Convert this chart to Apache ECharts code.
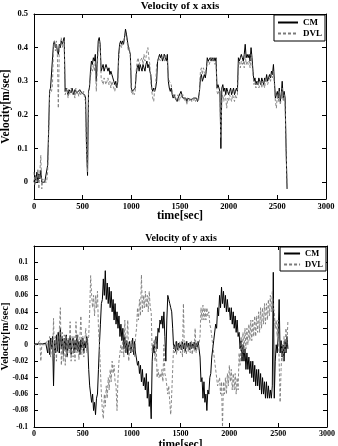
<!DOCTYPE html>
<html>
<head>
<meta charset="utf-8">
<script src="https://cdn.jsdelivr.net/npm/echarts@6/dist/echarts.min.js"></script>
<style>
html,body{margin:0;padding:0;background:#fff;}
#chart{width:338px;height:446px;}
</style>
</head>
<body>
<div id="chart"></div>
<script>
// sample step in sec, values start at t=0
var step = 10;

// x axis velocity, CM (solid)
var vxCM = [
 0.0,0.02,0.005,0.03,0.0,0.025,0.01,0.035,0.0,0.0,
 0,0,0,0,0.05,0.15,0.27,0.28,0.28,0.28,
 0.41,0.42,0.40,0.41,0.39,0.38,0.41,0.40,0.42,0.41,
 0.42,0.43,0.27,0.28,0.27,0.26,0.275,0.27,0.265,0.28,
 0.27,0.26,0.275,0.27,0.265,0.27,0.26,0.275,0.27,0.265,
 0.27,0.265,0.26,0.25,0.1,0.02,0.27,0.28,0.33,0.36,
 0.35,0.37,0.36,0.38,0.30,0.36,0.42,0.43,0.41,0.33,
 0.34,0.35,0.33,0.34,0.35,0.34,0.33,0.34,0.32,0.33,
 0.32,0.31,0.30,0.29,0.30,0.28,0.30,0.38,0.41,0.42,
 0.41,0.42,0.41,0.43,0.455,0.44,0.42,0.40,0.39,0.38,
 0.28,0.27,0.265,0.27,0.28,0.32,0.34,0.35,0.33,0.35,
 0.34,0.33,0.35,0.34,0.33,0.35,0.36,0.34,0.35,0.33,
 0.32,0.28,0.27,0.28,0.27,0.28,0.30,0.36,0.37,0.38,
 0.37,0.38,0.36,0.37,0.38,0.37,0.36,0.38,0.30,0.28,
 0.27,0.28,0.26,0.25,0.26,0.25,0.25,0.24,0.25,0.25,
 0.25,0.27,0.26,0.25,0.245,0.25,0.25,0.24,0.25,0.245,
 0.25,0.245,0.25,0.24,0.25,0.25,0.245,0.25,0.24,0.25,
 0.27,0.31,0.32,0.30,0.31,0.32,0.31,0.33,0.37,0.36,
 0.36,0.37,0.36,0.37,0.36,0.37,0.36,0.37,0.28,0.29,
 0.29,0.27,0.10,0.28,0.29,0.27,0.28,0.26,0.28,0.27,
 0.26,0.27,0.28,0.26,0.27,0.28,0.26,0.27,0.28,0.27,
 0.37,0.36,0.37,0.38,0.37,0.36,0.38,0.41,0.37,0.38,
 0.37,0.38,0.36,0.40,0.37,0.33,0.30,0.31,0.29,0.30,
 0.29,0.31,0.30,0.29,0.31,0.30,0.29,0.31,0.30,0.32,
 0.30,0.31,0.32,0.31,0.33,0.32,0.35,0.30,0.25,0.26,
 0.27,0.25,0.28,0.24,0.26,0.30,0.25,0.27,0.25,0.10,
 -0.02
];
// x axis velocity, DVL (dashed)
var vxDVL = [
 0.03,-0.01,0.02,0.0,0.04,-0.02,0.03,0.08,-0.02,0.01,
 0.0,0.0,0.0,0.0,0.03,0.13,0.26,0.28,0.27,0.29,
 0.40,0.42,0.39,0.42,0.38,0.22,0.40,0.41,0.43,0.40,
 0.41,0.42,0.26,0.27,0.28,0.25,0.27,0.26,0.28,0.27,
 0.26,0.27,0.25,0.28,0.26,0.27,0.255,0.27,0.26,0.27,
 0.26,0.27,0.25,0.24,0.08,0.03,0.26,0.29,0.31,0.34,
 0.33,0.35,0.33,0.36,0.27,0.34,0.40,0.42,0.40,0.31,
 0.30,0.29,0.31,0.30,0.29,0.30,0.31,0.29,0.30,0.28,
 0.30,0.29,0.28,0.27,0.29,0.28,0.29,0.36,0.40,0.41,
 0.40,0.41,0.42,0.42,0.44,0.43,0.41,0.39,0.40,0.37,
 0.27,0.26,0.27,0.26,0.27,0.33,0.36,0.37,0.35,0.36,
 0.36,0.37,0.35,0.38,0.36,0.37,0.39,0.40,0.37,0.35,
 0.30,0.27,0.25,0.24,0.28,0.29,0.35,0.36,0.37,0.37,
 0.36,0.37,0.37,0.38,0.36,0.38,0.37,0.36,0.31,0.30,
 0.30,0.29,0.27,0.26,0.25,0.26,0.24,0.25,0.26,0.24,
 0.25,0.26,0.25,0.26,0.25,0.24,0.25,0.23,0.25,0.24,
 0.24,0.25,0.24,0.25,0.24,0.25,0.24,0.25,0.25,0.24,
 0.27,0.33,0.34,0.32,0.34,0.33,0.32,0.34,0.35,0.36,
 0.35,0.36,0.37,0.36,0.37,0.36,0.35,0.36,0.27,0.26,
 0.27,0.26,0.13,0.25,0.26,0.24,0.26,0.25,0.22,0.25,
 0.24,0.26,0.25,0.24,0.26,0.25,0.24,0.26,0.25,0.26,
 0.35,0.36,0.34,0.36,0.35,0.36,0.34,0.38,0.35,0.36,
 0.35,0.36,0.34,0.38,0.35,0.32,0.29,0.30,0.28,0.29,
 0.30,0.28,0.29,0.30,0.28,0.30,0.29,0.28,0.31,0.30,
 0.29,0.30,0.31,0.30,0.32,0.31,0.33,0.29,0.24,0.22,
 0.26,0.24,0.27,0.23,0.25,0.28,0.24,0.26,0.23,0.10,
 -0.02
];

// y axis velocity, CM (solid)
var vyCM = [
 0.001,0.001,0.001,0.001,0.001,0.001,0.001,0.002,0.001,0.001,
 0.001,0.001,0.002,0.0,-0.01,0.005,-0.012,0.008,-0.005,0.01,
 -0.05,0.005,-0.01,0.012,-0.008,0.015,-0.01,0.02,-0.005,0.01,
 -0.012,0.008,-0.006,0.012,-0.015,0.006,-0.005,0.01,-0.012,0.004,
 0.008,-0.01,0.005,-0.006,0.012,-0.008,0.004,-0.012,0.006,-0.004,
 0.008,-0.01,0.004,-0.004,0.01,0.002,-0.03,-0.05,-0.06,-0.07,
 -0.06,-0.08,-0.07,-0.085,-0.065,-0.06,-0.03,0.0,0.025,0.05,
 0.055,0.08,0.06,0.09,0.055,0.075,0.05,0.07,0.045,0.065,
 0.04,0.055,0.03,0.05,0.025,0.04,0.02,0.035,0.01,0.025,
 0.005,0.02,-0.005,0.01,-0.01,0.005,-0.012,0.0,0.004,-0.01,
 -0.002,0.008,-0.012,0.004,-0.01,-0.012,-0.025,-0.02,-0.035,-0.025,
 -0.045,-0.03,-0.05,-0.04,-0.055,-0.035,-0.065,-0.045,-0.075,-0.06,
 -0.09,-0.02,0.0,-0.01,0.005,0.01,-0.005,0.02,0.015,0.03,
 0.025,0.035,0.02,0.04,0.01,-0.02,0.03,0.06,0.055,0.05,
 0.045,0.04,0.02,-0.005,0.0,-0.008,0.004,-0.006,0.002,-0.004,
 0.0,-0.006,0.003,-0.005,0.002,-0.008,0.004,-0.003,0.002,-0.006,
 0.003,-0.005,0.001,-0.004,0.003,-0.006,0.002,-0.003,0.004,-0.005,
 -0.015,-0.045,-0.04,-0.065,-0.045,-0.07,-0.06,-0.08,-0.055,-0.06,
 -0.04,-0.035,-0.015,-0.015,0.005,0.005,0.025,0.02,0.045,0.035,
 0.06,0.045,0.07,0.05,0.065,0.045,0.06,0.04,0.055,0.04,
 0.045,0.03,0.045,0.025,0.04,0.02,0.035,0.015,0.03,0.01,
 0.015,-0.005,0.005,-0.02,0.0,-0.02,-0.005,-0.03,-0.01,-0.03,
 -0.015,-0.035,-0.02,-0.04,-0.02,-0.045,-0.025,-0.05,-0.03,-0.05,
 -0.03,-0.055,-0.035,-0.06,-0.04,-0.06,-0.045,-0.065,-0.045,-0.065,
 -0.05,-0.065,-0.055,-0.065,-0.05,0.088,-0.065,-0.02,0.0,-0.01,
 0.01,0.055,-0.01,0.005,-0.015,0.0,-0.02,0.005,-0.01,0.01,
 -0.005
];
// y axis velocity, DVL (dashed)
var vyDVL = [
 0.0,0.0,0.0,0.0,0.0,0.0,0.005,-0.02,0.0,0.0,
 0.0,0.0,0.0,0.0,0.005,-0.01,0.01,-0.015,0.008,-0.02,
 0.032,-0.015,0.01,-0.02,0.015,-0.01,0.02,0.045,-0.025,0.015,
 -0.02,0.012,-0.025,0.01,-0.015,0.008,-0.01,0.028,-0.02,0.01,
 -0.015,0.01,-0.02,0.028,-0.01,0.012,-0.018,0.008,0.035,-0.012,
 0.01,-0.015,0.005,0.02,-0.01,0.005,0.01,0.04,0.084,0.06,
 0.045,0.06,0.035,0.06,0.045,0.065,0.02,0.0,-0.03,-0.06,
 -0.08,-0.09,-0.06,-0.075,-0.05,-0.065,-0.04,-0.055,-0.03,-0.045,
 -0.02,-0.035,-0.025,-0.045,-0.05,-0.08,-0.04,-0.02,-0.01,0.0,
 -0.01,0.005,-0.015,0.03,-0.01,0.005,0.03,-0.02,0.0,-0.01,
 0.005,-0.01,0.0,-0.015,0.01,0.02,0.045,0.03,0.055,0.035,
 0.085,0.04,0.06,0.045,0.065,0.045,0.06,0.04,0.065,0.045,
 0.04,-0.01,0.0,0.005,-0.02,0.01,-0.04,-0.03,-0.04,-0.035,
 -0.04,-0.03,-0.045,0.0,-0.035,-0.04,-0.05,-0.06,-0.05,-0.07,
 -0.085,-0.06,-0.03,0.0,-0.01,0.005,-0.012,0.0,-0.008,0.004,
 -0.01,0.005,-0.015,0.05,-0.01,0.002,-0.012,0.004,-0.008,0.0,
 -0.01,0.005,-0.012,0.003,-0.008,0.02,-0.01,0.004,-0.006,0.002,
 0.01,0.045,0.03,0.048,0.03,0.045,0.03,0.045,0.035,0.04,
 0.025,0.02,0.01,0.0,-0.01,-0.02,-0.03,-0.04,-0.05,-0.045,
 -0.04,-0.06,-0.045,-0.1,-0.045,-0.06,-0.04,-0.06,-0.035,-0.05,
 -0.025,-0.045,-0.03,-0.055,-0.035,-0.055,-0.035,-0.06,-0.04,-0.055,
 -0.01,-0.025,0.01,-0.015,0.015,-0.01,0.02,-0.005,0.02,0.0,
 0.025,0.005,0.03,0.005,0.03,0.01,0.035,0.01,0.035,0.015,
 0.04,0.015,0.045,0.02,0.045,0.025,0.05,0.025,0.05,0.03,
 0.055,0.035,0.06,0.04,0.065,0.045,0.04,0.02,0.03,0.01,
 0.03,-0.02,-0.07,-0.03,0.0,-0.02,0.01,-0.01,0.02,0.0,
 0.03
];

var timeTicks = [0, 500, 1000, 1500, 2000, 2500, 3000];
var vxTicks = [0, 0.1, 0.2, 0.3, 0.4, 0.5];
var vyTicks = [-0.1, -0.08, -0.06, -0.04, -0.02, 0, 0.02, 0.04, 0.06, 0.08, 0.1];

var serif = 'Liberation Serif';

function toPairs(arr){
	var out = [];
	for(var i=0;i<arr.length;i++){
		out.push([i*step, arr[i]]);
	}
	return out;
}

function xAxisOf(g, pos, show, fs, gap){
	return {
		type:'value', gridIndex:g, position:pos, min:0, max:3000,
		axisLine:{show:true, onZero:false, lineStyle:{color:'#000', width:1}},
		axisTick:{show:true, inside:true, length:4, customValues:timeTicks, lineStyle:{color:'#000'}},
		axisLabel:{show:show, customValues:timeTicks, margin:3, color:'#000', fontFamily:serif, fontWeight:'bold', fontSize:fs,
			formatter:function(v){ return '' + v; }},
		splitLine:{show:false},
		name: show ? 'time[sec]' : '',
		nameLocation:'middle', nameGap: gap, nameMoveOverlap:false,
		nameTextStyle:{color:'#000', fontFamily:serif, fontWeight:'bold', fontSize: fs + 3.5}
	};
}

function yAxisOf(g, pos, show, min, max, ticks, fs, gap){
	return {
		type:'value', gridIndex:g, position:pos, min:min, max:max,
		axisLine:{show:true, onZero:false, lineStyle:{color:'#000', width:1}},
		axisTick:{show:true, inside:true, length:4, customValues:ticks, lineStyle:{color:'#000'}},
		axisLabel:{show:show, customValues:ticks, margin:6, color:'#000', fontFamily:serif, fontWeight:'bold', fontSize:fs},
		splitLine:{show:false},
		name: show ? 'Velocity[m/sec]' : '',
		nameLocation:'middle', nameGap: gap, nameMoveOverlap:false,
		nameTextStyle:{color:'#000', fontFamily:serif, fontWeight:'bold', fontSize: fs + 3}
	};
}

function lineOf(name, xi, yi, arr, dashed){
	return {
		name:name, type:'line', xAxisIndex:xi, yAxisIndex:yi,
		data: toPairs(arr), symbol:'none', showSymbol:false,
		lineStyle:{width: dashed ? 0.9 : 1, color: dashed ? '#7a7a7a' : '#000', type: dashed ? [3,2] : 'solid'},
		itemStyle:{color: dashed ? '#7a7a7a' : '#000'},
		z: dashed ? 3 : 2
	};
}

var myChart = echarts.init(document.getElementById('chart'), null, {renderer:'canvas'});

// legend: line only, hide the round marker
var noMarker = {color:'transparent', borderColor:'transparent', borderWidth:0, opacity:0};

var option = {
	animation:false,
	backgroundColor:'#fff',
	grid:[
		{left:34, top:14, width:292, height:185, outerBoundsMode:'none', containLabel:false},
		{left:34, top:246, width:293, height:181, outerBoundsMode:'none', containLabel:false}
	],
	xAxis:[
		xAxisOf(0,'bottom',true,8.5,11),
		xAxisOf(0,'top',false,8.5,11),
		xAxisOf(1,'bottom',true,8,12),
		xAxisOf(1,'top',false,8,12)
	],
	yAxis:[
		yAxisOf(0,'left',true,-0.05,0.5,vxTicks,8.5,22),
		yAxisOf(0,'right',false,-0.05,0.5,vxTicks,8.5,22),
		yAxisOf(1,'left',true,-0.1,0.12,vyTicks,7.5,23),
		yAxisOf(1,'right',false,-0.1,0.12,vyTicks,7.5,23)
	],
	legend:[
		{
			data:['CM','DVL'], orient:'vertical', right:13, top:15,
			backgroundColor:'#fff', borderColor:'#000', borderWidth:1, borderRadius:0,
			padding:[3,3,3,3], itemGap:2, itemWidth:20, itemHeight:10,
			selectedMode:false, itemStyle:noMarker,
			textStyle:{color:'#000', fontFamily:serif, fontWeight:'bold', fontSize:9}
		},
		{
			data:['CM','DVL'], orient:'vertical', right:12, top:247,
			backgroundColor:'#fff', borderColor:'#000', borderWidth:1, borderRadius:0,
			padding:[2,3,2,3], itemGap:2, itemWidth:16, itemHeight:9,
			selectedMode:false, itemStyle:noMarker,
			textStyle:{color:'#000', fontFamily:serif, fontWeight:'bold', fontSize:8.5}
		}
	],
	graphic:[
		{type:'text', x:180, y:6, style:{text:'Velocity of x axis', textAlign:'center', textVerticalAlign:'middle', font:'bold 11px "Liberation Serif"', fill:'#000'}},
		{type:'text', x:181, y:238, style:{text:'Velocity of y axis', textAlign:'center', textVerticalAlign:'middle', font:'bold 10px "Liberation Serif"', fill:'#000'}}
	],
	series:[
		lineOf('CM',0,0,vxCM,false),
		lineOf('DVL',0,0,vxDVL,true),
		lineOf('CM',2,2,vyCM,false),
		lineOf('DVL',2,2,vyDVL,true)
	]
};

myChart.setOption(option);
</script>
</body>
</html>
